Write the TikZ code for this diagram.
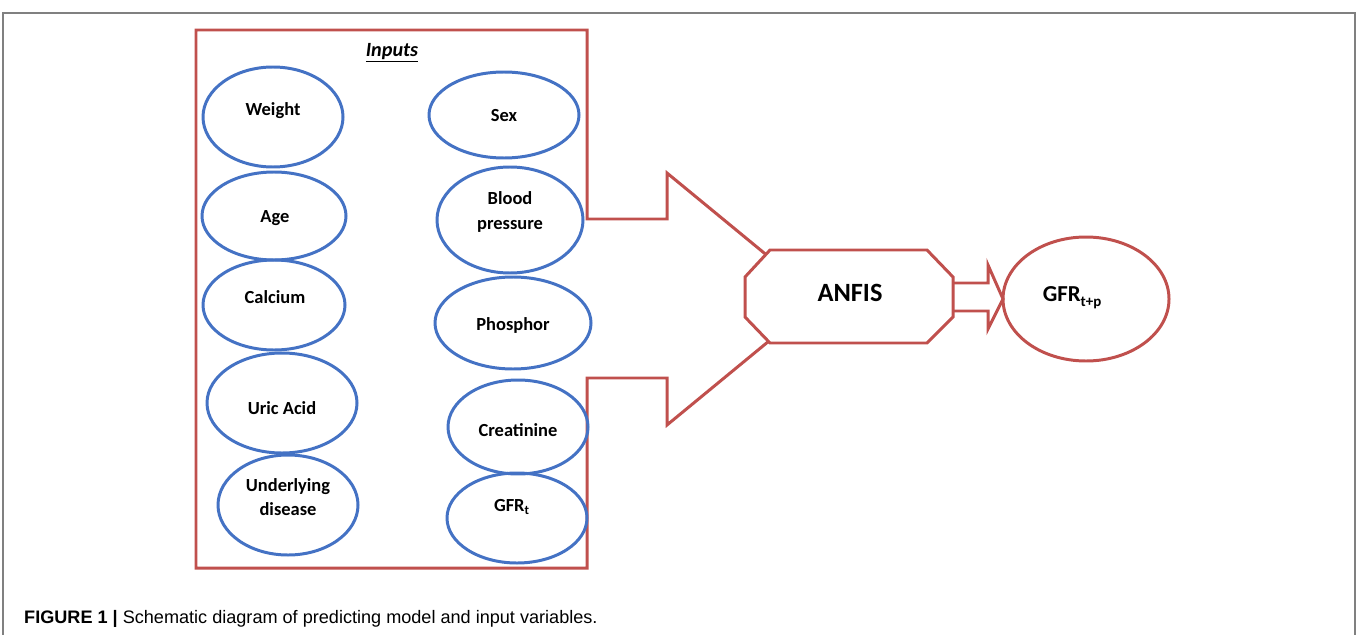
\documentclass[tikz,border=0pt]{standalone}
\usepackage{fontspec}
\setmainfont{Carlito}
\newfontfamily\capfont{Liberation Sans}
\usepackage{tikz}
\usetikzlibrary{calc}
\usetikzlibrary{arrows}
\definecolor{inblue}{RGB}{68,114,196}
\definecolor{boxred}{RGB}{192,80,77}
\tikzstyle{every node}=[font=\bfseries\fontsize{10.5}{14}\selectfont, align=center]
\tikzstyle{var}=[draw=inblue, line width=1.7pt]
\tikzstyle{frame}=[draw=boxred, line width=1.7pt, line join=miter]

\begin{document}
\begin{tikzpicture}[x=0.02cm, y=-0.02cm]
            \useasboundingbox (0, 0) rectangle (1358, 635);
            \def\tipx{820}
            \def\midy{299}

            % outer figure frame
            \draw [gray, line width=1.1pt] (3, 635) -- (3, 13) -- (1355, 13) -- (1355, 635);

            % inputs box with the big arrow
            \coordinate (A) at (587, 219) {};
            \coordinate (B) at (667, 173) {};
            \coordinate (C) at (667, 425) {};
            \coordinate (T) at (\tipx, \midy) {};
            \draw [frame] (A) -- (587, 30) -- (196, 30) -- (196, 568) -- (587, 568) -- (587, 378)
                -- (667, 378) -- (C) -- (T) -- (B) -- (667, 219) -- cycle;

            \node (inputs) at (392, 53) {\fontsize{11.5}{14}\selectfont\underline{\textit{Inputs}}};

            % left column
            \draw [var] (273, 117) ellipse (70 and 50);
            \draw [var] (274, 216) ellipse (72 and 44);
            \draw [var] (274, 305) ellipse (71 and 45);
            \draw [var] (282, 403) ellipse (75 and 50);
            \draw [var] (288, 505) ellipse (70 and 50);
            \node (weight) at (273, 111) {Weight};
            \node (age) at (275, 218) {Age};
            \node (calcium) at (275, 297) {Calcium};
            \node (uric) at (282, 408) {Uric Acid};
            \node (disease) at (288, 497) {Underlying\\disease};

            % right column
            \draw [var] (504, 115) ellipse (75 and 43);
            \draw [var] (510, 220) ellipse (73 and 53);
            \draw [var] (513, 323) ellipse (78 and 46);
            \draw [var] (518, 427) ellipse (70 and 47);
            \draw [var] (517, 518) ellipse (70 and 45);
            \node (sex) at (504, 116) {Sex};
            \node (pressure) at (510, 212) {Blood\\pressure};
            \node (phosphor) at (513, 325) {Phosphor};
            \node (creatinine) at (518, 430) {Creatinine};
            \node (gfrt) at (512, 507) {GFR\textsubscript{t}};

            % ANFIS block
            \draw [frame, fill=white] (770, 250) -- (927, 250) -- (953, 277) -- (953, 317)
                -- (927, 343) -- (770, 343) -- (745, 317) -- (745, 277) -- cycle;
            \node (anfis) at (850, 293) {\fontsize{15}{18}\selectfont ANFIS};

            % output
            \draw [frame] (1086, \midy) ellipse (83 and 62);
            \node (gfrtp) at (1072, 298) {\fontsize{13}{16}\selectfont GFR\raisebox{-0.45ex}{\fontsize{8.5}{10}\selectfont t+p}};
            \draw [frame] (953, 283) -- (988, 283) -- (988, 265) -- (1003, \midy) -- (988, 329) -- (988, 311) -- (953, 311);

            % caption
            \node [anchor=west, font=\capfont\fontsize{10.3}{12}\selectfont] (caption) at (18, 619)
                {\textbf{FIGURE 1 |} Schematic diagram of predicting model and input variables.};
        \end{tikzpicture}
\end{document}
